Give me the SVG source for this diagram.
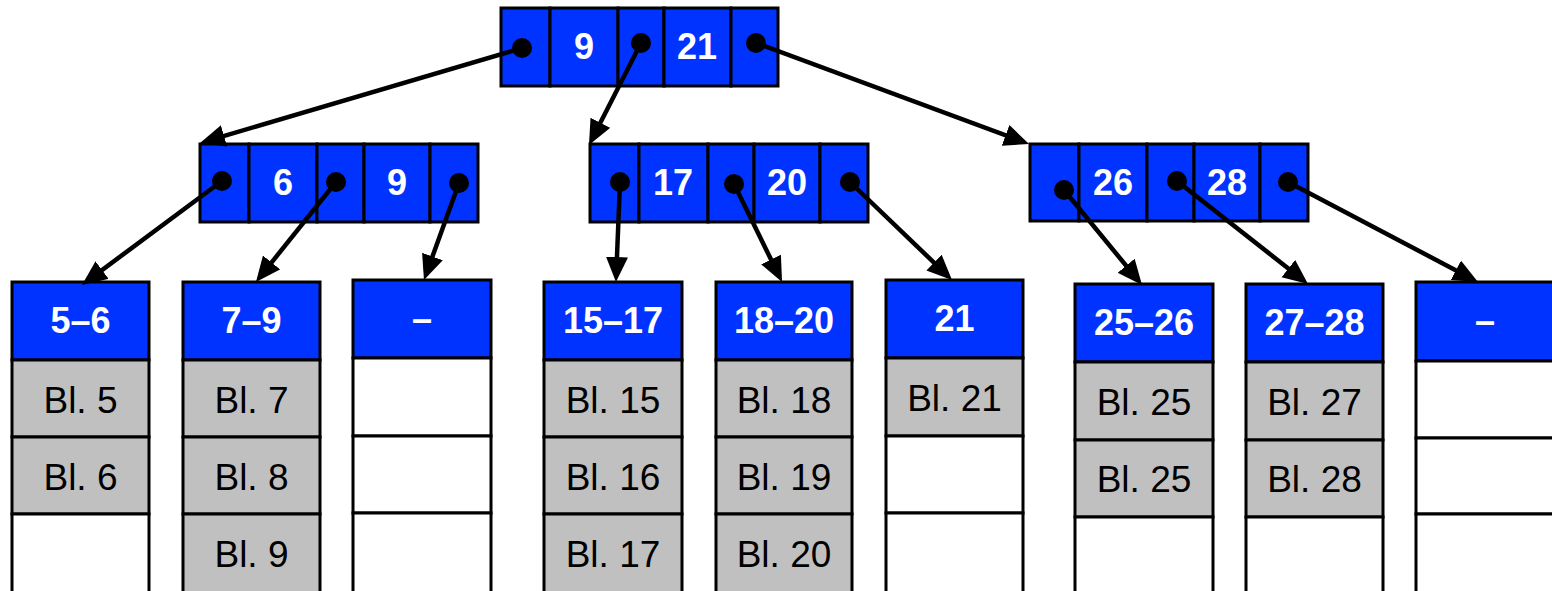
<svg xmlns="http://www.w3.org/2000/svg" width="1552" height="591" viewBox="0 0 1552 591">
<style>
.b{fill:#0033FF;stroke:#000;stroke-width:3}
.g{fill:#C0C0C0;stroke:#000;stroke-width:3}
.w{fill:#FFFFFF;stroke:#000;stroke-width:3}
.h{font-family:"Liberation Sans",Arial,sans-serif;font-weight:bold;font-size:36px;fill:#FFFFFF;text-anchor:middle}
.t{font-family:"Liberation Sans",Arial,sans-serif;font-size:37px;fill:#000;text-anchor:middle}
.d{fill:#000}
.c{stroke:#000;stroke-width:4.5;fill:none;marker-end:url(#ah)}
</style>
<defs>
<marker id="ah" markerUnits="userSpaceOnUse" markerWidth="28" markerHeight="24" refX="19" refY="11" orient="auto">
<path d="M0,0 L25,11 L0,22 z" fill="#000"/>
</marker>
</defs>
<rect width="1552" height="591" fill="#FFFFFF"/>

<g id="root">
<rect class="b" x="501" y="8" width="49" height="78"/>
<rect class="b" x="550" y="8" width="68" height="78"/>
<rect class="b" x="618" y="8" width="46" height="78"/>
<rect class="b" x="664" y="8" width="67" height="78"/>
<rect class="b" x="731" y="8" width="47" height="78"/>
<text class="h" x="584" y="59">9</text>
<text class="h" x="697" y="59">21</text>
<circle class="d" cx="522" cy="48" r="10"/>
<circle class="d" cx="641" cy="43" r="10"/>
<circle class="d" cx="756" cy="43" r="10"/>
</g>

<g id="inner-left">
<rect class="b" x="200" y="144" width="49" height="78"/>
<rect class="b" x="249" y="144" width="68" height="78"/>
<rect class="b" x="317" y="144" width="47" height="78"/>
<rect class="b" x="364" y="144" width="66" height="78"/>
<rect class="b" x="430" y="144" width="48" height="78"/>
<text class="h" x="283" y="195">6</text>
<text class="h" x="397" y="195">9</text>
<circle class="d" cx="222" cy="181" r="10"/>
<circle class="d" cx="336" cy="182" r="10"/>
<circle class="d" cx="459" cy="183" r="10"/>
</g>

<g id="inner-mid">
<rect class="b" x="590" y="144" width="49" height="78"/>
<rect class="b" x="639" y="144" width="69" height="78"/>
<rect class="b" x="708" y="144" width="46" height="78"/>
<rect class="b" x="754" y="144" width="66" height="78"/>
<rect class="b" x="820" y="144" width="48" height="78"/>
<text class="h" x="673" y="195">17</text>
<text class="h" x="787" y="195">20</text>
<circle class="d" cx="620" cy="182" r="10"/>
<circle class="d" cx="734" cy="184" r="10"/>
<circle class="d" cx="850" cy="182" r="10"/>
</g>

<g id="inner-right">
<rect class="b" x="1030" y="144" width="49" height="77"/>
<rect class="b" x="1079" y="144" width="68" height="77"/>
<rect class="b" x="1147" y="144" width="47" height="77"/>
<rect class="b" x="1194" y="144" width="66" height="77"/>
<rect class="b" x="1260" y="144" width="48" height="77"/>
<text class="h" x="1113" y="195">26</text>
<text class="h" x="1227" y="195">28</text>
<circle class="d" cx="1064" cy="190" r="10"/>
<circle class="d" cx="1177" cy="181" r="10"/>
<circle class="d" cx="1288" cy="182" r="10"/>
</g>

<g id="leaf-5-6">
<rect class="b" x="12" y="282" width="137" height="78"/>
<rect class="g" x="12" y="360" width="137" height="77"/>
<rect class="g" x="12" y="437" width="137" height="77"/>
<rect class="w" x="12" y="514" width="137" height="80"/>
<text class="h" x="80.5" y="333">5–6</text>
<text class="t" x="80.5" y="413">Bl. 5</text>
<text class="t" x="80.5" y="490">Bl. 6</text>
</g>

<g id="leaf-7-9">
<rect class="b" x="183" y="282" width="137" height="78"/>
<rect class="g" x="183" y="360" width="137" height="77"/>
<rect class="g" x="183" y="437" width="137" height="77"/>
<rect class="g" x="183" y="514" width="137" height="80"/>
<text class="h" x="251.5" y="333">7–9</text>
<text class="t" x="251.5" y="413">Bl. 7</text>
<text class="t" x="251.5" y="490">Bl. 8</text>
<text class="t" x="251.5" y="567">Bl. 9</text>
</g>

<g id="leaf-empty-1">
<rect class="b" x="353" y="280" width="138" height="78"/>
<rect class="w" x="353" y="358" width="138" height="78"/>
<rect class="w" x="353" y="436" width="138" height="77"/>
<rect class="w" x="353" y="513" width="138" height="81"/>
<text class="h" x="422" y="331">–</text>
</g>

<g id="leaf-15-17">
<rect class="b" x="544" y="282" width="138" height="78"/>
<rect class="g" x="544" y="360" width="138" height="77"/>
<rect class="g" x="544" y="437" width="138" height="77"/>
<rect class="g" x="544" y="514" width="138" height="80"/>
<text class="h" x="613" y="333">15–17</text>
<text class="t" x="613" y="413">Bl. 15</text>
<text class="t" x="613" y="490">Bl. 16</text>
<text class="t" x="613" y="567">Bl. 17</text>
</g>

<g id="leaf-18-20">
<rect class="b" x="716" y="282" width="136" height="78"/>
<rect class="g" x="716" y="360" width="136" height="77"/>
<rect class="g" x="716" y="437" width="136" height="77"/>
<rect class="g" x="716" y="514" width="136" height="80"/>
<text class="h" x="784" y="333">18–20</text>
<text class="t" x="784" y="413">Bl. 18</text>
<text class="t" x="784" y="490">Bl. 19</text>
<text class="t" x="784" y="567">Bl. 20</text>
</g>

<g id="leaf-21">
<rect class="b" x="886" y="280" width="137" height="78"/>
<rect class="g" x="886" y="358" width="137" height="78"/>
<rect class="w" x="886" y="436" width="137" height="77"/>
<rect class="w" x="886" y="513" width="137" height="81"/>
<text class="h" x="954.5" y="331">21</text>
<text class="t" x="954.5" y="411">Bl. 21</text>
</g>

<g id="leaf-25-26">
<rect class="b" x="1075" y="284" width="138" height="78"/>
<rect class="g" x="1075" y="362" width="138" height="78"/>
<rect class="g" x="1075" y="440" width="138" height="77"/>
<rect class="w" x="1075" y="517" width="138" height="77"/>
<text class="h" x="1144" y="335">25–26</text>
<text class="t" x="1144" y="415">Bl. 25</text>
<text class="t" x="1144" y="492">Bl. 25</text>
</g>

<g id="leaf-27-28">
<rect class="b" x="1246" y="284" width="137" height="78"/>
<rect class="g" x="1246" y="362" width="137" height="78"/>
<rect class="g" x="1246" y="440" width="137" height="77"/>
<rect class="w" x="1246" y="517" width="137" height="77"/>
<text class="h" x="1314.5" y="335">27–28</text>
<text class="t" x="1314.5" y="415">Bl. 27</text>
<text class="t" x="1314.5" y="492">Bl. 28</text>
</g>

<g id="leaf-empty-2">
<rect class="b" x="1416" y="282" width="140" height="79"/>
<rect class="w" x="1416" y="361" width="140" height="77"/>
<rect class="w" x="1416" y="438" width="140" height="76"/>
<rect class="w" x="1416" y="514" width="140" height="80"/>
<text class="h" x="1485" y="333">–</text>
</g>

<g id="connectors">
<line class="c" x1="522" y1="48" x2="205.8" y2="141.3"/>
<line class="c" x1="641" y1="43" x2="591.7" y2="139.7"/>
<line class="c" x1="756" y1="43" x2="1023.4" y2="141.9"/>
<line class="c" x1="222" y1="181" x2="86.8" y2="281.4"/>
<line class="c" x1="336" y1="182" x2="259.7" y2="277.3"/>
<line class="c" x1="459" y1="183" x2="426.0" y2="274.4"/>
<line class="c" x1="620" y1="182" x2="616.2" y2="276"/>
<line class="c" x1="734" y1="184" x2="779.4" y2="276.6"/>
<line class="c" x1="850" y1="182" x2="947.7" y2="275.8"/>
<line class="c" x1="1064" y1="190" x2="1138.2" y2="280.4"/>
<line class="c" x1="1177" y1="181" x2="1303.3" y2="280.3"/>
<line class="c" x1="1288" y1="182" x2="1472.7" y2="279.2"/>
</g>
</svg>
